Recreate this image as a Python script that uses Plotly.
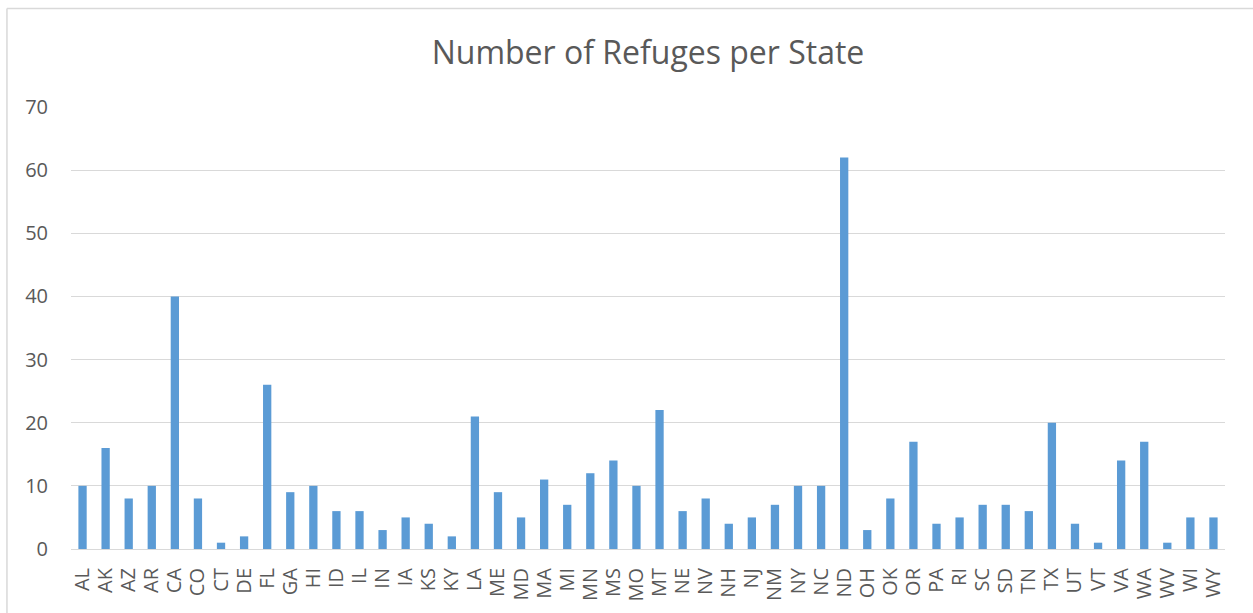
import plotly.graph_objects as go

# Refuges per state
states = ["AL", "AK", "AZ", "AR", "CA", "CO", "CT", "DE", "FL", "GA",
          "HI", "ID", "IL", "IN", "IA", "KS", "KY", "LA", "ME", "MD",
          "MA", "MI", "MN", "MS", "MO", "MT", "NE", "NV", "NH", "NJ",
          "NM", "NY", "NC", "ND", "OH", "OK", "OR", "PA", "RI", "SC",
          "SD", "TN", "TX", "UT", "VT", "VA", "WA", "WV", "WI", "WY"]
refuges = [10, 16, 8, 10, 40, 8, 1, 2, 26, 9,
           10, 6, 6, 3, 5, 4, 2, 21, 9, 5,
           11, 7, 12, 14, 10, 22, 6, 8, 4, 5,
           7, 10, 10, 62, 3, 8, 17, 4, 5, 7,
           7, 6, 20, 4, 1, 14, 17, 1, 5, 5]
y_ticks = [0, 10, 20, 30, 40, 50, 60, 70]

title_text = "Number of Refuges per State"

BAR = "#5B9BD5"
GRID = "#D9D9D9"
TEXT = "#595959"
FONT = "Open Sans"

fig = go.Figure(
    go.Bar(
        x=states,
        y=refuges,
        marker=dict(color=BAR, line=dict(width=0)),
    )
)

fig.update_layout(
    width=1253,
    height=613,
    margin=dict(l=71, r=28, t=107, b=64, autoexpand=False),
    paper_bgcolor="white",
    plot_bgcolor="white",
    bargap=0.64,
    showlegend=False,
    font=dict(family=FONT, color=TEXT, size=20),
    title=dict(
        text=title_text,
        x=0.5,
        xref="paper",
        xanchor="center",
        y=1 - 53 / 613,
        yref="container",
        yanchor="middle",
        font=dict(family=FONT, size=32, color=TEXT),
    ),
    xaxis=dict(
        type="category",
        tickmode="array",
        tickvals=states,
        ticktext=states,
        tickangle=-90,
        showgrid=False,
        showline=True,
        linecolor=GRID,
        linewidth=1,
        ticks="",
        ticklabelstandoff=10,
        tickfont=dict(family=FONT, size=20, color=TEXT),
    ),
    yaxis=dict(
        range=[0, 70],
        tickvals=y_ticks,
        showgrid=True,
        gridcolor=GRID,
        gridwidth=1,
        zeroline=False,
        showline=False,
        ticks="",
        ticklabelstandoff=22,
        tickfont=dict(family=FONT, size=20, color=TEXT),
    ),
    shapes=[
        # chart frame: left and top edges
        dict(type="line", xref="paper", yref="paper",
             x0=-0.0555, x1=-0.0555, y0=-0.2, y1=1.2229,
             line=dict(color=GRID, width=1.5)),
        dict(type="line", xref="paper", yref="paper",
             x0=-0.0555, x1=1.1, y0=1.2229, y1=1.2229,
             line=dict(color=GRID, width=1.5)),
    ],
)

fig.write_html("out.html")
